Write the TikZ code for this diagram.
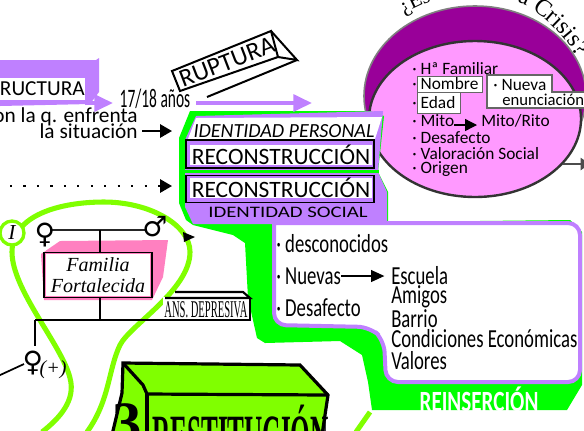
\documentclass[tikz,border=0pt]{standalone}
\usepackage{fontspec}
\usepackage{xcolor}
\usetikzlibrary{arrows.meta}
\usetikzlibrary{decorations.text}
\setmainfont{Liberation Serif}
\newfontfamily\comicfont{Carlito}
\newfontfamily\narrowfont[FakeStretch=0.72]{Carlito}
\newfontfamily\tallfont[FakeStretch=0.58]{Carlito}
\newfontfamily\widefont[FakeStretch=1.3]{Carlito}
\newfontfamily\thinserif[FakeStretch=0.44]{Liberation Serif}
\newfontfamily\titleserif[FakeStretch=0.42]{Liberation Serif}
\newfontfamily\symbolfont{DejaVu Sans}
\definecolor{lila}{HTML}{BF80FF}
\definecolor{lime}{HTML}{80FF00}
\definecolor{neon}{HTML}{00FF00}
\definecolor{rosa}{HTML}{FF99FF}
\definecolor{fucsia}{HTML}{FF80C0}
\definecolor{morado}{HTML}{990099}
\newcommand{\dotitem}{·\hspace{3pt}}
\tikzset{
	lilaarrow/.style={draw=lila, line width=3pt, -{Triangle[length=14pt,width=12.5pt]}},
	blackarrow/.style={draw=black, line width=1.6pt, -{Triangle[length=9pt,width=10pt]}},
	titlebox/.style={draw=black, line width=0.8pt, fill=lila, inner sep=0pt},
	listbox/.style={draw=black!60, fill=white, line width=0.8pt, inner sep=0pt, anchor=north west},
	comictext/.style={font=\comicfont\fontsize{13}{13}\selectfont, anchor=west, inner sep=0pt},
	narrowtext/.style={font=\narrowfont\fontsize{19.5}{19.5}\selectfont, anchor=west, inner sep=0pt},
	sideline/.style={font=\comicfont\fontsize{16}{16}\selectfont, anchor=east, inner sep=0pt},
	sexsign/.style={font=\symbolfont\bfseries\fontsize{21}{21}\selectfont, inner sep=0pt},
}
\begin{document}
\begin{tikzpicture}[x=0.75pt, y=-0.75pt]
	\clip (0,0) rectangle (584,430);
	\fill[white] (0,0) rectangle (584,430);

	% crisis ellipse
	\draw[fill=morado, draw=gray, line width=1.2pt] (475,96) ellipse (111 and 90);
	\draw[fill=rosa, draw=black!80, line width=1.8pt] (475,119) ellipse (106 and 78);
	\path[decorate, decoration={text along path, text={|\fontsize{16}{16}\selectfont|¿Es}}] (404,15) .. controls (412,9) and (420,5) .. (445,-4);
	\path[decorate, decoration={text along path, text={|\fontsize{18}{18}\selectfont|a Crisis?}}] (517,2) .. controls (543,12) and (568,38) .. (582,65);
	\coordinate (exit) at (563,164);
	\coordinate (exitend) at (590,164);
	\draw[draw=black!70, line width=1.6pt, -{Triangle[length=7pt,width=9pt]}] (exit) -- (exitend);

	% ellipse list
	\node[listbox, minimum width=48.7pt, minimum height=12pt] (nombre) at (417,76) {};
	\node[listbox, minimum width=32pt, minimum height=16pt] (edad) at (417,92) {};
	\filldraw[fill=white, draw=black!60, line width=0.8pt] (487,75) -- (552,75) -- (552,92) -- (590,92) -- (590,108) -- (487,108) -- cycle;
	\node[comictext] (familiar) at (412,69) {\dotitem Hª Familiar};
	\node[comictext] (nombretxt) at (412,84) {\dotitem Nombre};
	\node[comictext] (edadtxt) at (412,103) {\dotitem Edad};
	\node[comictext] (nuevatxt) at (493,85) {\dotitem Nueva};
	\node[comictext, font=\comicfont\fontsize{12.5}{12.5}\selectfont] (enuncia) at (502,100) {enunciación};
	\node[comictext] (mito) at (412,121) {\dotitem Mito};
	\node[comictext] (rito) at (481,121) {Mito/Rito};
	\draw[black, line width=1pt, shorten >=3pt, -{Triangle[length=9pt,width=9pt]}] ([yshift=-3pt]mito.east) -- ([yshift=-3pt]rito.west);
	\node[comictext] (desafecto) at (412,138) {\dotitem Desafecto};
	\node[comictext] (valoracion) at (412,154) {\dotitem Valoración Social};
	\node[comictext] (origen) at (412,169) {\dotitem Origen};

	% green and lila block
	\fill[neon] (190,111) -- (370,111) -- (384,116) -- (378,172) -- (388,192) -- (388,222) -- (570,220) -- (582,232) -- (582,385) -- (567,410) -- (372,410) -- (368,382) -- (362,355) -- (340,341) -- (265,343) -- (257,338) -- (248,298) -- (245,243) -- (233,235) -- (193,225) -- (186,220) -- (179,203) -- (179,138) -- cycle;
	\fill[lila] (196,116) -- (383,111) -- (378,172) -- (387,192) -- (387,224) -- (193,224) -- (185,207) -- (185,140) -- cycle;
	\fill[neon] (185,170) -- (379,170) -- (379,173) -- (185,173) -- cycle;
	\fill[white] (196,118) -- (382,117) -- (375,139) -- (188,139) -- cycle;
	\node[font=\itshape\comicfont\fontsize{15}{15}\selectfont, inner sep=0pt] (personal) at (284,131) {IDENTIDAD PERSONAL};
	\node[titlebox, minimum width=141pt, minimum height=21pt] (recon) at (280,154) {};
	\node[titlebox, minimum width=141pt, minimum height=20pt] (reconb) at (280,189) {};
	\node[fill=white, inner sep=0pt, minimum width=136pt, minimum height=14pt, font=\comicfont\fontsize{17.6}{17.6}\selectfont] (recontxt) at (281,155) {RECONSTRUCCIÓN};
	\node[fill=white, inner sep=0pt, minimum width=136pt, minimum height=13.5pt, font=\comicfont\fontsize{17.6}{17.6}\selectfont] (recontxtb) at (281,188) {RECONSTRUCCIÓN};
	\node[font=\widefont\fontsize{12}{12}\selectfont, inner sep=0pt] (social) at (288,212) {IDENTIDAD SOCIAL};

	% white list
	\draw[fill=white, draw=lila, line width=3pt] (274,223) [rounded corners=9pt] -- (580,223) -- (580,382) -- (386,382) -- (384,340) -- (370,327) -- (274,325) [sharp corners] -- cycle;
	\node[narrowtext] (descon) at (276,244) {· desconocidos};
	\node[narrowtext] (nuevas) at (276,276) {· Nuevas};
	\node[narrowtext] (desaf) at (276,308) {· Desafecto};
	\node[narrowtext] (escuela) at (391,276) {Escuela};
	\node[narrowtext] (amigos) at (391,297) {Amigos};
	\node[narrowtext] (barrio) at (391,319) {Barrio};
	\node[narrowtext] (condi) at (391,339) {Condiciones Económicas};
	\node[narrowtext] (valores) at (391,361) {Valores};
	\draw[black, line width=0.8pt, shorten >=5pt, -{Triangle[length=10pt,width=9pt]}] (nuevas) -- (escuela);
	\node[font=\narrowfont\bfseries\fontsize{22}{22}\selectfont, text=white, inner sep=0pt] (reins) at (479,399) {REINSERCIÓN};

	% left arrows
	\fill[lila] (0,60) -- (96,60) -- (99,58) -- (99,92) -- (90,104) -- (0,106) -- cycle;
	\node[fill=white, inner sep=0pt, font=\comicfont\fontsize{16}{16}\selectfont, anchor=east, minimum height=17pt, minimum width=80pt, align=right] (ructura) at (85,89) {ESTRUCTURA};
	\coordinate (lilastart) at (85,103);
	\coordinate (lilaend) at (113,103);
	\draw[lilaarrow] (lilastart) -- (lilaend);
	\node[font=\tallfont\fontsize{20}{20}\selectfont, inner sep=0pt] (edades) at (155,99) {17/18 años};
	\coordinate (rupstart) at (196,103);
	\coordinate (rupend) at (312,103);
	\draw[lilaarrow] (rupstart) -- (rupend);
	\node[sideline] (enfrenta) at (138,117) {con la q. enfrenta};
	\node[sideline] (situacion) at (138,131) {la situación};
	\coordinate (perstip) at (172,131);
	\draw[blackarrow] ([xshift=3pt]situacion.east) -- (perstip);
	\coordinate (dotstart) at (10,186);
	\coordinate (dotend) at (172,186);
	\draw[black, line width=1.6pt, dash pattern=on 1.6pt off 8.5pt, -{Triangle[length=9pt,width=10pt]}] (dotstart) -- (dotend);

	% ruptura box
	\draw[black, line width=1.5pt] (172,71) -- (271,31) -- (278,57) -- (180,91) -- cycle;
	\draw[black, line width=1.5pt] (271,31) -- (297,60) -- (278,57);
	\draw[black, line width=1.5pt] (297,60) -- (207,97);
	\node[rotate=21, font=\comicfont\fontsize{19}{19}\selectfont, inner sep=0pt] (ruptura) at (227,62) {RUPTURA};

	% family loop
	\draw[lime, line width=3.8pt] (42,432) .. controls (60,418) and (76,400) .. (70,378) .. controls (62,345) and (12,290) .. (12,252) .. controls (12,215) and (60,202) .. (104,202) .. controls (150,202) and (190,225) .. (190,252) .. controls (190,290) and (130,325) .. (120,345) .. controls (108,370) and (110,400) .. (87,432);
	\coordinate (limestart) at (356,432);
	\coordinate (limeend) at (370,412);
	\draw[lime, line width=3.8pt] (limestart) -- (limeend);
	\node[circle, draw=lime, fill=white, line width=2.5pt, minimum size=18pt, inner sep=0pt, font=\itshape\fontsize{16}{16}\selectfont] (uno) at (12,233) {I};
	\fill[black] (183,232) -- (195,237) -- (184,242) -- cycle;

	% family
	\fill[fucsia] (41,254) -- (60,241) -- (168,240) -- (163,277) -- (152,300) -- (44,300) -- cycle;
	\node[draw=black, fill=white, line width=0.8pt, minimum width=81pt, minimum height=34pt, align=center, inner sep=0pt, font=\itshape\fontsize{15}{16}\selectfont] (familia) at (98,275) {Familia\hspace{9pt}\\Fortalecida};
	\draw[fucsia, line width=0.8pt] ([xshift=1.3pt,yshift=-1.3pt]familia.north west) rectangle ([xshift=-1.3pt,yshift=1.3pt]familia.south east);
	\coordinate (famleft) at (50,230);
	\coordinate (famright) at (147,230);
	\coordinate (famtop) at (100,230);
	\coordinate (famdown) at (100,320);
	\draw[black!85, line width=2pt] (famleft) -- (famright);
	\draw[black, line width=2pt] (famtop) -- (familia.north -| famtop);
	\draw[black, line width=2pt] (familia.south -| famdown) -- (famdown);
	\node[sexsign] (mother) at (45,235) {♀};
	\node[sexsign] (father) at (155,227) {♂};

	% ansiedad
	\fill[white] (163,297) rectangle (250,321);
	\draw[black, line width=1.6pt] (175,292) -- (243,292) -- (250,298) -- (165,298);
	\coordinate (hijocorner) at (35,320);
	\coordinate (boxcorner) at (250,320);
	\draw[black, line width=1.6pt] (250,298) -- (boxcorner) -- (hijocorner);
	\node[font=\thinserif\fontsize{18}{18}\selectfont, inner sep=0pt] (ansdep) at (206,310) {ANS. DEPRESIVA};
	\node[sexsign] (hija) at (33,363) {♀};
	\coordinate (hijotop) at (35,346);
	\draw[black, line width=2pt] (hijocorner) -- (hijotop);
	\coordinate (leftend) at (-2,376);
	\coordinate (leftstart) at (24,364);
	\draw[black, line width=1.3pt] (leftend) -- (leftstart);
	\node[font=\itshape\fontsize{15}{15}\selectfont, inner sep=0pt] (masmas) at (53,370) {(+)};

	% restitucion
	\filldraw[fill=lime, draw=black, line width=2.4pt] (123,363) -- (300,365) -- (328,395) -- (322,435) -- (112,435) -- (122,393) -- cycle;
	\draw[black, line width=2.4pt] (123,363) -- (143,385) -- (147,394) -- (328,395);
	\draw[black, line width=2.4pt] (147,394) -- (147,435);
	\node[font=\titleserif\bfseries\fontsize{45}{45}\selectfont, anchor=base west, inner sep=0pt] (restit) at (152,456) {RESTITUCIÓN};
	\node[font=\bfseries\fontsize{44}{44}\selectfont, anchor=base, inner sep=0pt] (tres) at (127,442) {3};
\end{tikzpicture}
\end{document}
